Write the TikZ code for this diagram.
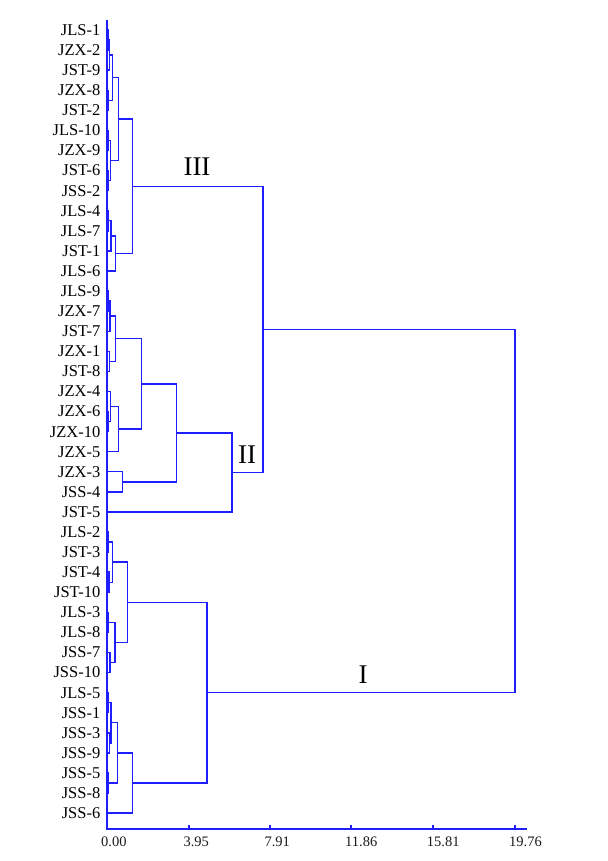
\documentclass[tikz,border=0pt]{standalone}
\usepackage{fontspec}
\setmainfont{Liberation Serif}
\usetikzlibrary{calc}
\definecolor{dblue}{RGB}{30,30,255}
\tikzset{
  tree/.style={draw=dblue, line width=1.4pt},
  axisline/.style={draw=dblue, line width=1.8pt},
  leaf/.style={anchor=east, inner sep=0pt, font=\fontsize{16.5}{18}\selectfont, text=black},
  ticklab/.style={anchor=west, inner sep=0pt, font=\fontsize{14.5}{16}\selectfont, text=black!90},
  roman/.style={inner sep=0pt, font=\fontsize{27}{30}\selectfont}
}
\newcommand{\mrg}[4]{%
  \path let \p1=($(#2)!0.5!(#3)$) in coordinate (#1) at (#4pt,\y1);
  \draw[tree] (#2) -| (#1) |- (#3);}
\begin{document}
\begin{tikzpicture}[x=1pt,y=-1pt]
\useasboundingbox (0,0) rectangle (607,861);
% leaves
\foreach \n [count=\i] in {JLS-1,JZX-2,JST-9,JZX-8,JST-2,JLS-10,JZX-9,JST-6,JSS-2,JLS-4,JLS-7,JST-1,JLS-6,JLS-9,JZX-7,JST-7,JZX-1,JST-8,JZX-4,JZX-6,JZX-10,JZX-5,JZX-3,JSS-4,JST-5,JLS-2,JST-3,JST-4,JST-10,JLS-3,JLS-8,JSS-7,JSS-10,JLS-5,JSS-1,JSS-3,JSS-9,JSS-5,JSS-8,JSS-6}{
  \coordinate (L\i) at (107,{30+20.08*(\i-1)});
  \node[leaf] (T\i) at (100.5,{30+20.08*(\i-1)}) {\n};
}
% cluster III
\mrg{m12}{L1}{L2}{108.3}
\mrg{m123}{m12}{L3}{109.2}
\mrg{m45}{L4}{L5}{108.5}
\mrg{q1}{m123}{m45}{112.3}
\mrg{m67}{L6}{L7}{108.4}
\mrg{m89}{L8}{L9}{108.6}
\mrg{q2}{m67}{m89}{110.5}
\mrg{p1}{q1}{q2}{118.3}
\mrg{m1011}{L10}{L11}{108.5}
\mrg{r1}{m1011}{L12}{110.8}
\mrg{r2}{r1}{L13}{115.5}
\mrg{cIII}{p1}{r2}{132.7}
% cluster II
\mrg{m1415}{L14}{L15}{108.5}
\mrg{s0}{m1415}{L16}{109.8}
\mrg{m1718}{L17}{L18}{109.5}
\mrg{s1}{s0}{m1718}{115.3}
\mrg{m2021}{L20}{L21}{108.5}
\mrg{m19}{L19}{m2021}{110.2}
\mrg{s2}{m19}{L22}{118.3}
\mrg{s3}{s1}{s2}{141.7}
\mrg{m2324}{L23}{L24}{122.7}
\mrg{s4}{s3}{m2324}{176.7}
\mrg{cII}{s4}{L25}{232}
\mrg{cIIIb}{cIII}{cII}{263}
% cluster I
\mrg{m2627}{L26}{L27}{108.4}
\mrg{m2829}{L28}{L29}{109}
\mrg{c0}{m2627}{m2829}{112.3}
\mrg{m3031}{L30}{L31}{108.5}
\mrg{m3233}{L32}{L33}{110}
\mrg{c1}{m3031}{m3233}{115}
\mrg{cc}{c0}{c1}{127.3}
\mrg{m3435}{L34}{L35}{108.3}
\mrg{m3637}{L36}{L37}{109.5}
\mrg{d0}{m3435}{m3637}{111}
\mrg{m3839}{L38}{L39}{108.5}
\mrg{d1}{d0}{m3839}{117.3}
\mrg{dd}{d1}{L40}{132.7}
\mrg{cI}{cc}{dd}{207}
\mrg{root}{cIIIb}{cI}{515}
% axes
\coordinate (ytop) at (107,20);
\coordinate (orig) at (107,829);
\coordinate (xend) at (527,829);
\draw[axisline] (ytop) -- (orig) -- (xend);
\foreach \x/\lab [count=\k] in {107/0.00,189.3/3.95,270.3/7.91,351/11.86,432.7/15.81,515/19.76}{
  \coordinate (tb\k) at (\x,829);
  \coordinate (tt\k) at (\x,824.5);
  \draw[axisline] (tb\k) -- (tt\k);
  \node[ticklab] (tl\k) at (\x-6,842) {\lab};
}
% cluster labels
\node[roman] (labIII) at (197,167) {III};
\node[roman] (labII) at (247,455) {II};
\node[roman] (labI) at (363,675) {I};
\end{tikzpicture}
\end{document}
